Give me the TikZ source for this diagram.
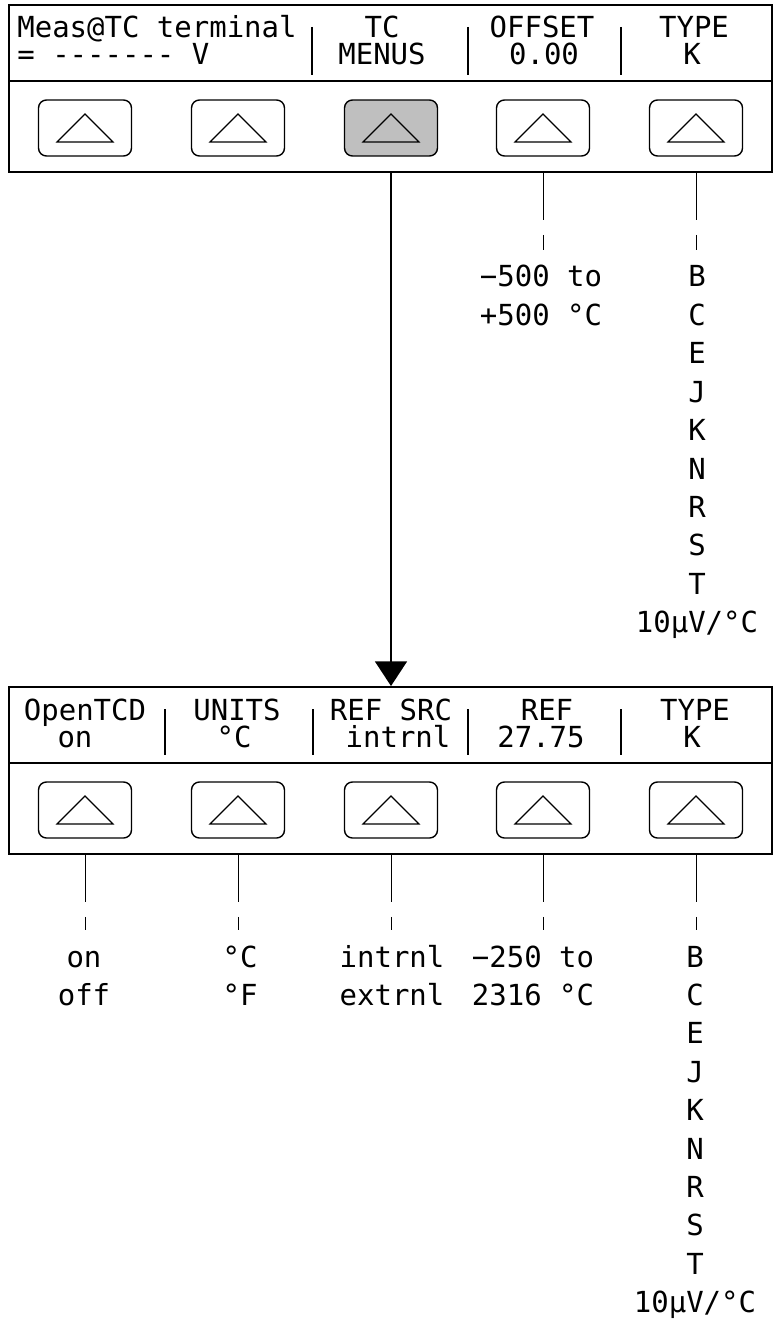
\documentclass[tikz,border=0pt]{standalone}
\usepackage{fontspec}
\setmonofont{DejaVu Sans Mono}
\usetikzlibrary{calc, arrows.meta, positioning}

\begin{document}
\begin{tikzpicture}[
    x=0.02cm, y=-0.02cm,
    every node/.style={font=\ttfamily\fontsize{16.5}{19}\selectfont, inner sep=0pt, text height=12pt, text depth=3.5pt},
    panel/.style={draw, line width=1.1pt, minimum width=15.26cm, minimum height=3.34cm},
    softkey/.style={draw, line width=0.8pt, rounded corners=4.5pt, minimum width=1.86cm, minimum height=1.12cm},
    sepbar/.style={line width=1.3pt},
    leader/.style={line width=0.5pt, dash pattern=on 0.94cm off 0.3cm on 5cm, shorten >=0.32cm},
    arr/.style={line width=1.4pt, -{Triangle[width=18pt,length=14pt]}},
  ]
  \useasboundingbox (0,0) rectangle (774,1324);

  % Upper display and softkeys
  \node[panel] (tpanel) at (390.5,88.5) {};
  \draw[line width=0.8pt] ($(tpanel.north west)+(0,77)$) -- ($(tpanel.north east)+(0,77)$);
  \foreach \x/\f [count=\i] in {85/white, 238/white, 391/gray!50, 543/white, 696/white} {
    \node[softkey, fill=\f] (tk\i) at (\x,128) {};
    \draw[line width=0.7pt] ($(tk\i)+(0,-14)$) -- ($(tk\i)+(-28,14)$) -- ($(tk\i)+(28,14)$) -- cycle;
  }
  \foreach \x in {312,468,621}
    \draw[sepbar] (\x,27) -- (\x,75);
  \draw[line width=1.3pt] (453,81) -- (468,81);

  \node[anchor=base west] (tmeas) at (17,38) {Meas@TC terminal};
  \node[anchor=base west] (tval) at (17,65) {= ------- V};
  \node[anchor=base] (ttc) at (382,38) {TC};
  \node[anchor=base] (tmenus) at (382,65) {MENUS};
  \node[anchor=base] (toffs) at (542,38) {OFFSET};
  \node[anchor=base] (toffv) at (544,65) {0.00};
  \node[anchor=base] (ttype) at (694,38) {TYPE};
  \node[anchor=base] (ttypev) at (692,65) {K};

  % Lower display and softkeys
  \node[panel] (bpanel) at (390.5,770.5) {};
  \draw[line width=0.8pt] ($(bpanel.north west)+(0,77)$) -- ($(bpanel.north east)+(0,77)$);
  \foreach \x [count=\i] in {85,238,391,543,696} {
    \node[softkey] (bk\i) at (\x,810) {};
    \draw[line width=0.7pt] ($(bk\i)+(0,-14)$) -- ($(bk\i)+(-28,14)$) -- ($(bk\i)+(28,14)$) -- cycle;
  }
  \foreach \x in {165,313,468,621}
    \draw[sepbar] (\x,709) -- (\x,755);
  \draw[line width=1.3pt] (453,763) -- (468,763);

  \node[anchor=base] (bopen) at (85,720) {OpenTCD};
  \node[anchor=base] (bopenv) at (75,747) {on};
  \node[anchor=base] (bunits) at (237,720) {UNITS};
  \node[anchor=base] (bunitsv) at (234,747) {°C};
  \node[anchor=base] (bsrc) at (391,720) {REF SRC};
  \node[anchor=base] (bsrcv) at (398,747) {intrnl};
  \node[anchor=base] (bref) at (547,720) {REF};
  \node[anchor=base] (brefv) at (541,747) {27.75};
  \node[anchor=base] (btype) at (695,720) {TYPE};
  \node[anchor=base] (btypev) at (692,747) {K};

  % Choice lists
  \node[anchor=base] (toff1) at (541,287) {−500 to};
  \node[anchor=base] (toff2) at (541,325.4) {+500 °C};
  \node[anchor=base] (bon1) at (84,967) {on};
  \node[anchor=base] (bon2) at (84,1005.4) {off};
  \node[anchor=base] (bdeg1) at (240,967) {°C};
  \node[anchor=base] (bdeg2) at (240,1005.4) {°F};
  \node[anchor=base] (bsrc1) at (392,967) {intrnl};
  \node[anchor=base] (bsrc2) at (392,1005.4) {extrnl};
  \node[anchor=base] (bref1) at (533,967) {−250 to};
  \node[anchor=base] (bref2) at (533,1005.4) {2316 °C};
  \foreach \t [count=\i] in {B,C,E,J,K,N,R,S,T,10µV/°C} {
    \node[anchor=base] (ta\i) at (697,{287+38.4*(\i-1)}) {\t};
    \node[anchor=base] (ba\i) at (695,{967+38.4*(\i-1)}) {\t};
  }

  % Connectors
  \draw[arr] (tk3 |- tpanel.south) -- (tk3 |- bpanel.north);
  \draw[leader] (tk4 |- tpanel.south) -- (tk4 |- toff1.north);
  \draw[leader] (tk5 |- tpanel.south) -- (tk5 |- ta1.north);
  \draw[leader] (bk1 |- bpanel.south) -- (bk1 |- bon1.north);
  \draw[leader] (bk2 |- bpanel.south) -- (bk2 |- bdeg1.north);
  \draw[leader] (bk3 |- bpanel.south) -- (bk3 |- bsrc1.north);
  \draw[leader] (bk4 |- bpanel.south) -- (bk4 |- bref1.north);
  \draw[leader] (bk5 |- bpanel.south) -- (bk5 |- ba1.north);
\end{tikzpicture}
\end{document}
